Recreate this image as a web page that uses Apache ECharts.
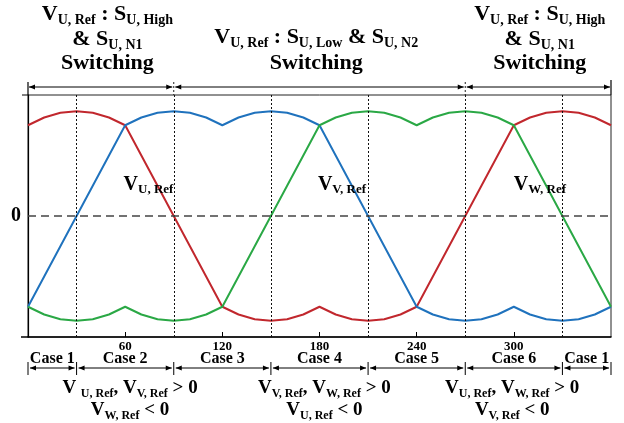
<!DOCTYPE html>
<html>
<head>
<meta charset="utf-8">
<script src="https://cdn.jsdelivr.net/npm/echarts/dist/echarts.min.js"></script>
<style>
html, body { margin: 0; padding: 0; background: #fff; }
#chart { width: 624px; height: 423px; }
</style>
</head>
<body>
<div id="chart"></div>
<script>
// electrical angle (deg)
const angles = [0, 10, 20, 30, 40, 50, 60, 70, 80, 90, 100, 110, 120, 130, 140, 150, 160, 170, 180,
    190, 200, 210, 220, 230, 240, 250, 260, 270, 280, 290, 300, 310, 320, 330, 340, 350, 360];
// reference voltages, normalised to the peak
const vU = [0.866, 0.94, 0.985, 1, 0.985, 0.94, 0.866, 0.577, 0.289, 0, -0.289, -0.577, -0.866,
    -0.94, -0.985, -1, -0.985, -0.94, -0.866, -0.94, -0.985, -1, -0.985, -0.94, -0.866,
    -0.577, -0.289, 0, 0.289, 0.577, 0.866, 0.94, 0.985, 1, 0.985, 0.94, 0.866];
const vV = [-0.866, -0.577, -0.289, 0, 0.289, 0.577, 0.866, 0.94, 0.985, 1, 0.985, 0.94, 0.866,
    0.94, 0.985, 1, 0.985, 0.94, 0.866, 0.577, 0.289, 0, -0.289, -0.577, -0.866,
    -0.94, -0.985, -1, -0.985, -0.94, -0.866, -0.94, -0.985, -1, -0.985, -0.94, -0.866];
const vW = [-0.866, -0.94, -0.985, -1, -0.985, -0.94, -0.866, -0.94, -0.985, -1, -0.985, -0.94, -0.866,
    -0.577, -0.289, 0, 0.289, 0.577, 0.866, 0.94, 0.985, 1, 0.985, 0.94, 0.866,
    0.94, 0.985, 1, 0.985, 0.94, 0.866, 0.577, 0.289, 0, -0.289, -0.577, -0.866];

const dottedAngles = [30, 90, 150, 210, 270, 330];
const caseBounds = [0, 30, 90, 150, 210, 270, 330, 360];
const caseNames = ['Case 1', 'Case 2', 'Case 3', 'Case 4', 'Case 5', 'Case 6', 'Case 1'];
const switchBounds = [0, 90, 270, 360];

const FONT = "'Liberation Serif', 'Times New Roman', serif";

const myChart = echarts.init(document.getElementById('chart'));

const option = {
    animation: false,
    grid: {
        left: 28, top: 95, width: 583, height: 242,
        show: true, borderColor: '#222', borderWidth: 1,
        outerBoundsMode: 'none'
    },
    xAxis: {
        type: 'value', min: 0, max: 360, interval: 60,
        axisLine: { onZero: false, lineStyle: { color: '#000', width: 1.5 } },
        axisTick: { inside: true, length: 5, lineStyle: { color: '#000' } },
        splitLine: { show: false },
        axisLabel: {
            showMinLabel: false, showMaxLabel: false, margin: 3,
            color: '#000', fontFamily: FONT, fontWeight: 'bold', fontSize: 13
        }
    },
    yAxis: {
        type: 'value', min: -1.155, max: 1.155, interval: 1.155,
        axisLine: { show: true, onZero: false, lineStyle: { color: '#000', width: 1.2 } },
        axisTick: { show: false },
        splitLine: { show: false },
        axisLabel: {
            margin: 7, color: '#000', fontFamily: FONT, fontWeight: 'bold', fontSize: 20,
            formatter: v => (Math.abs(v) < 1e-9 ? '0' : '')
        }
    },
    series: [
        {
            name: 'VU', type: 'line', showSymbol: false,
            data: angles.map((a, i) => [a, vU[i]]),
            lineStyle: { color: '#c1272d', width: 2 }, itemStyle: { color: '#c1272d' },
            z: 3,
            markLine: {
                silent: true, symbol: ['none', 'none'], label: { show: false },
                data: dottedAngles.map(a => ({ xAxis: a, lineStyle: { type: [2, 2], color: '#111', width: 1 } }))
                    .concat([{ yAxis: 0, lineStyle: { type: [8, 5], color: '#444', width: 1.5 } }])
            }
        },
        {
            name: 'VV', type: 'line', showSymbol: false,
            data: angles.map((a, i) => [a, vV[i]]),
            lineStyle: { color: '#1f72bd', width: 2 }, itemStyle: { color: '#1f72bd' }, z: 3
        },
        {
            name: 'VW', type: 'line', showSymbol: false,
            data: angles.map((a, i) => [a, vW[i]]),
            lineStyle: { color: '#2aa845', width: 2 }, itemStyle: { color: '#2aa845' }, z: 3
        }
    ]
};
myChart.setOption(option);

// annotations placed through the axis scales
const px = a => myChart.convertToPixel({ xAxisIndex: 0 }, a);
const py = v => myChart.convertToPixel({ yAxisIndex: 0 }, v);
const yEdgeTop = py(1.155), yEdgeBottom = py(-1.155);
const xEdgeLeft = px(0), xEdgeRight = px(360);

const line = (xa, ya, xb, yb, extra) => ({
    type: 'line', silent: true,
    shape: { x1: xa, y1: ya, x2: xb, y2: yb },
    style: Object.assign({ stroke: '#000', lineWidth: 1 }, extra || {})
});

function arrow(xa, xb, y) {
    const h = 6, w = 2.5;
    return [
        line(xa, y, xb, y),
        { type: 'polygon', silent: true, shape: { points: [[xa, y], [xa + h, y - w], [xa + h, y + w]] }, style: { fill: '#000' } },
        { type: 'polygon', silent: true, shape: { points: [[xb, y], [xb - h, y - w], [xb - h, y + w]] }, style: { fill: '#000' } }
    ];
}

function rich(m, s) {
    return {
        m: { fontSize: m, fontWeight: 'bold', fontFamily: FONT, fill: '#000', lineHeight: m + 4 },
        s: { fontSize: s, fontWeight: 'bold', fontFamily: FONT, fill: '#000', lineHeight: s, verticalAlign: 'bottom' }
    };
}

function label(text, x, y, align, m, s) {
    return {
        type: 'text', silent: true, z: 10,
        style: { text: text, x: x, y: y, align: align, verticalAlign: 'middle', rich: rich(m, s) }
    };
}

const g = [];
// frame extensions
g.push(line(xEdgeLeft, yEdgeTop - 13, xEdgeLeft, yEdgeTop, { lineWidth: 1.2 }));
g.push(line(xEdgeRight, yEdgeTop - 15, xEdgeRight, yEdgeTop, { lineWidth: 1.2 }));
g.push(line(xEdgeLeft - 6, yEdgeTop, xEdgeLeft, yEdgeTop));
g.push(line(xEdgeLeft - 7, yEdgeBottom, xEdgeLeft, yEdgeBottom, { lineWidth: 1.5 }));

// top switching arrows
const yArrowTop = yEdgeTop - 8;
for (let i = 0; i < switchBounds.length - 1; i++) {
    const xa = px(switchBounds[i]) + (i > 0 ? 1.5 : 1);
    const xb = px(switchBounds[i + 1]) - (i < switchBounds.length - 2 ? 1.5 : 1);
    g.push(...arrow(xa, xb, yArrowTop));
}
[90, 270].forEach(a => g.push(line(px(a), yEdgeTop - 13, px(a), yEdgeTop, { lineDash: [2, 2], stroke: '#222' })));

// case arrows
const yCase = yEdgeBottom + 31;
caseBounds.forEach(a => g.push(line(px(a), yCase - 6, px(a), yCase + 7)));
for (let i = 0; i < caseNames.length; i++) {
    const xa = px(caseBounds[i]), xb = px(caseBounds[i + 1]);
    g.push(...arrow(xa + 2, xb - 2, yCase));
    g.push({
        type: 'text', silent: true,
        style: {
            text: caseNames[i], x: (xa + xb) / 2, y: yEdgeBottom + 22, align: 'center', verticalAlign: 'middle',
            fontFamily: FONT, fontWeight: 'bold', fontSize: 16, fill: '#000'
        }
    });
}

// top switching texts
g.push(label('{m|V}{s|U, Ref}{m| : S}{s|U, High}', px(49), 14, 'center', 22, 14));
g.push(label('{m|& S}{s|U, N1}', px(49), 39.5, 'center', 22, 14));
g.push(label('{m|Switching}', px(49), 63, 'center', 22, 14));
g.push(label('{m|V}{s|U, Ref}{m| : S}{s|U, Low}{m| & S}{s|U, N2}', px(178), 37.5, 'center', 22, 14));
g.push(label('{m|Switching}', px(178), 63, 'center', 22, 14));
g.push(label('{m|V}{s|U, Ref}{m| : S}{s|U, High}', px(316), 14, 'center', 22, 14));
g.push(label('{m|& S}{s|U, N1}', px(316), 39.5, 'center', 22, 14));
g.push(label('{m|Switching}', px(316), 63, 'center', 22, 14));

// curve names
g.push(label('{m|V}{s|U, Ref}', px(59), py(0.3), 'left', 20, 13));
g.push(label('{m|V}{s|V, Ref}', px(179), py(0.3), 'left', 20, 13));
g.push(label('{m|V}{s|W, Ref}', px(300), py(0.3), 'left', 20, 13));

// sign conditions
g.push(label('{m|V }{s|U, Ref}{m|, V}{s|V, Ref}{m| > 0}', px(63), yEdgeBottom + 51, 'center', 19, 12));
g.push(label('{m|V}{s|W, Ref}{m| < 0}', px(63), yEdgeBottom + 73, 'center', 19, 12));
g.push(label('{m|V}{s|V, Ref}{m|, V}{s|W, Ref}{m| > 0}', px(183), yEdgeBottom + 51, 'center', 19, 12));
g.push(label('{m|V}{s|U, Ref}{m| < 0}', px(183), yEdgeBottom + 73, 'center', 19, 12));
g.push(label('{m|V}{s|U, Ref}{m|, V}{s|W, Ref}{m| > 0}', px(299), yEdgeBottom + 51, 'center', 19, 12));
g.push(label('{m|V}{s|V, Ref}{m| < 0}', px(299), yEdgeBottom + 73, 'center', 19, 12));

myChart.setOption({ graphic: g });
</script>
</body>
</html>
